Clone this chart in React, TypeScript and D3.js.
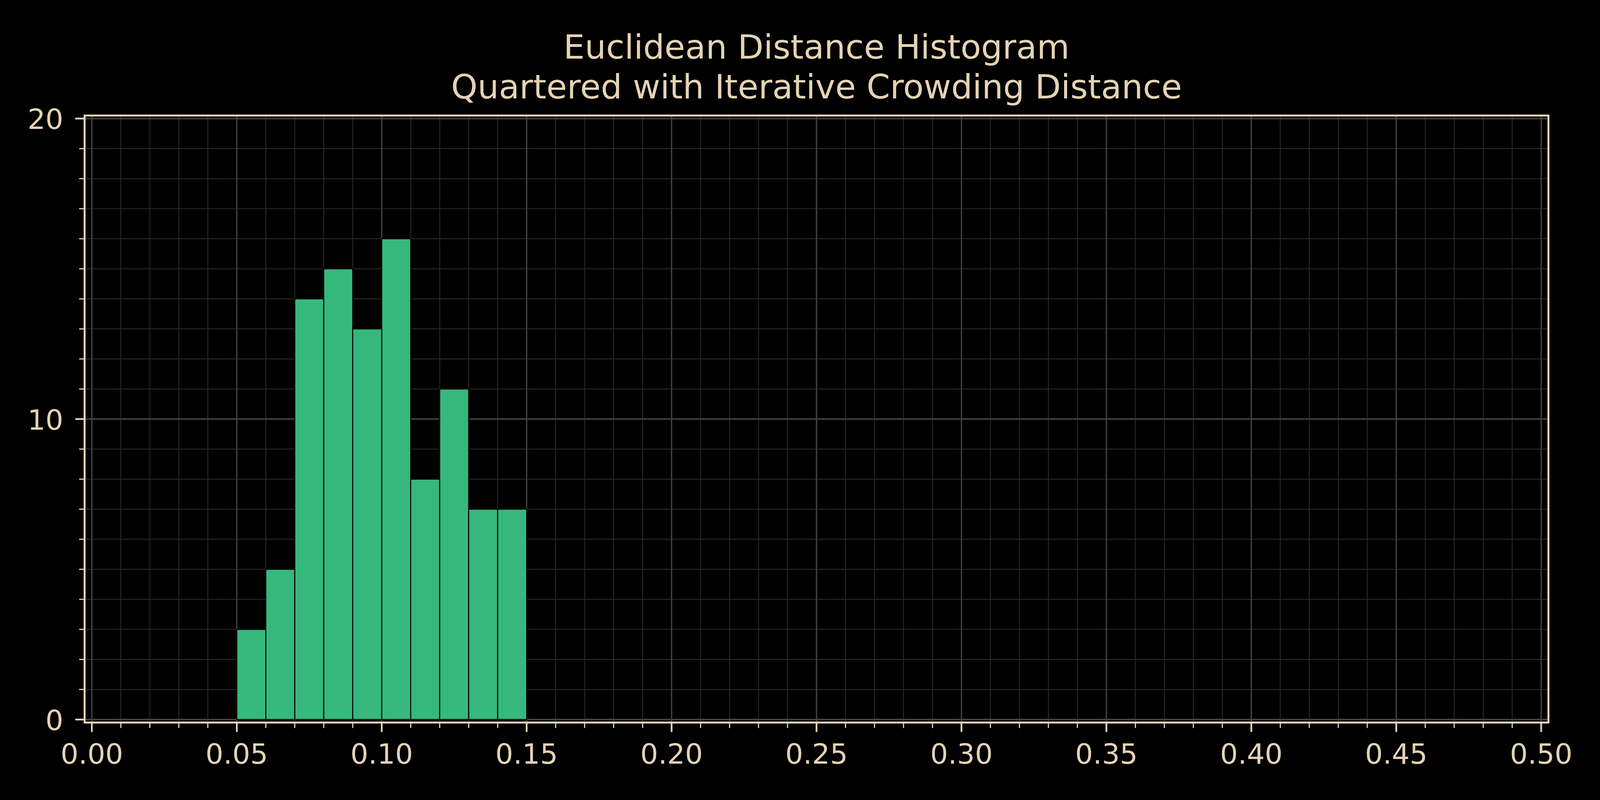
import React, { useEffect, useState } from "react";
import * as d3 from "d3";

const TITLE_LINES = ["Euclidean Distance Histogram", "Quartered with Iterative Crowding Distance"];

const BIN_WIDTH = 0.01;
const BIN_STARTS = [
  0.0, 0.01, 0.02, 0.03, 0.04, 0.05, 0.06, 0.07, 0.08, 0.09,
  0.1, 0.11, 0.12, 0.13, 0.14, 0.15, 0.16, 0.17, 0.18, 0.19,
  0.2, 0.21, 0.22, 0.23, 0.24, 0.25, 0.26, 0.27, 0.28, 0.29,
  0.3, 0.31, 0.32, 0.33, 0.34, 0.35, 0.36, 0.37, 0.38, 0.39,
  0.4, 0.41, 0.42, 0.43, 0.44, 0.45, 0.46, 0.47, 0.48, 0.49,
];
const BIN_COUNTS = [
  0, 0, 0, 0, 0, 3, 5, 14, 15, 13,
  16, 8, 11, 7, 7, 0, 0, 0, 0, 0,
  0, 0, 0, 0, 0, 0, 0, 0, 0, 0,
  0, 0, 0, 0, 0, 0, 0, 0, 0, 0,
  0, 0, 0, 0, 0, 0, 0, 0, 0, 0,
];

const X_MAJOR_TICKS = [0, 0.05, 0.1, 0.15, 0.2, 0.25, 0.3, 0.35, 0.4, 0.45, 0.5];
const X_TICK_LABELS = ["0.00", "0.05", "0.10", "0.15", "0.20", "0.25", "0.30", "0.35", "0.40", "0.45", "0.50"];
const Y_MAJOR_TICKS = [0, 10, 20];
const Y_TICK_LABELS = ["0", "10", "20"];
const X_MINOR_STEP = 0.01;
const Y_MINOR_STEP = 1;

const X_DOMAIN = [-0.0025, 0.5025];
const Y_DOMAIN = [-0.1, 20.1];

// reference frame 6144 x 2048; margins in reference pixels
const REF_W = 6144;
const REF_H = 2048;
const MARGIN = { left: 216.6, right: 132, top: 295.8, bottom: 2048 - 1849.7 };

const TEXT = "#e4d3b5";
const BAR = "#36b87c";
const GRID_MAJOR = "#45413a";
const GRID_MINOR = "#2d2a25";
const FONT = "DejaVu Sans, sans-serif";

function getSize() {
  if (typeof window === "undefined") return { w: REF_W, h: REF_H };
  return { w: window.innerWidth || REF_W, h: window.innerHeight || REF_H };
}

export default function App() {
  const [size, setSize] = useState(getSize());
  useEffect(() => {
    document.body.style.margin = "0";
    document.body.style.background = "#000";
    document.body.style.overflow = "hidden";
    const on = () => setSize(getSize());
    window.addEventListener("resize", on);
    return () => window.removeEventListener("resize", on);
  }, []);

  const W = size.w;
  const H = size.h;
  const s = H / REF_H; // point scale (font sizes, line widths, tick lengths, margins)

  const AX = {
    left: MARGIN.left * s,
    right: W - MARGIN.right * s,
    top: MARGIN.top * s,
    bottom: H - MARGIN.bottom * s,
  };

  const x = d3.scaleLinear().domain(X_DOMAIN).range([AX.left, AX.right]);
  const y = d3.scaleLinear().domain(Y_DOMAIN).range([AX.bottom, AX.top]);

  const isMajorX = (v: number) => X_MAJOR_TICKS.some((m) => Math.abs(m - v) < 1e-9);
  const isMajorY = (v: number) => Y_MAJOR_TICKS.some((m) => Math.abs(m - v) < 1e-9);
  const xMinor = d3.range(0, 0.5 + 1e-9, X_MINOR_STEP).map((v) => +v.toFixed(4)).filter((v) => !isMajorX(v));
  const yMinor = d3.range(0, 20 + 1e-9, Y_MINOR_STEP).filter((v) => !isMajorY(v));

  const cx = (AX.left + AX.right) / 2;
  const majorLen = 24 * s;
  const minorLen = 14 * s;

  return (
    <svg width={W} height={H} viewBox={`0 0 ${W} ${H}`} style={{ display: "block", background: "#000" }}>
      <rect x={0} y={0} width={W} height={H} fill="#000" />
      {/* title */}
      {TITLE_LINES.map((t, i) => (
        <text
          key={t}
          x={cx}
          y={(150 + i * 102) * s}
          fill={TEXT}
          fontFamily={FONT}
          fontSize={86 * s}
          textAnchor="middle"
        >
          {t}
        </text>
      ))}
      {/* grid */}
      <g>
        {xMinor.map((v) => (
          <line key={"gx" + v} x1={x(v)} x2={x(v)} y1={AX.top} y2={AX.bottom} stroke={GRID_MINOR} strokeWidth={2.2 * s} />
        ))}
        {yMinor.map((v) => (
          <line key={"gy" + v} x1={AX.left} x2={AX.right} y1={y(v)} y2={y(v)} stroke={GRID_MINOR} strokeWidth={2.2 * s} />
        ))}
        {X_MAJOR_TICKS.map((v) => (
          <line key={"GX" + v} x1={x(v)} x2={x(v)} y1={AX.top} y2={AX.bottom} stroke={GRID_MAJOR} strokeWidth={3.4 * s} />
        ))}
        {Y_MAJOR_TICKS.map((v) => (
          <line key={"GY" + v} x1={AX.left} x2={AX.right} y1={y(v)} y2={y(v)} stroke={GRID_MAJOR} strokeWidth={4 * s} />
        ))}
      </g>
      {/* histogram bars */}
      <g>
        {BIN_STARTS.map((b, i) => {
          const x0 = x(b);
          const x1 = x(b + BIN_WIDTH);
          const y0 = y(0);
          const y1 = y(BIN_COUNTS[i]);
          return (
            <rect
              key={"b" + i}
              x={x0}
              y={y1}
              width={x1 - x0}
              height={y0 - y1}
              fill={BAR}
              stroke="#000"
              strokeWidth={2.6 * s}
            />
          );
        })}
      </g>
      {/* spines */}
      <rect
        x={AX.left}
        y={AX.top}
        width={AX.right - AX.left}
        height={AX.bottom - AX.top}
        fill="none"
        stroke={TEXT}
        strokeWidth={5 * s}
      />
      {/* x ticks */}
      <g>
        {xMinor.map((v) => (
          <line key={"tx" + v} x1={x(v)} x2={x(v)} y1={AX.bottom} y2={AX.bottom + minorLen} stroke={TEXT} strokeWidth={3 * s} />
        ))}
        {X_MAJOR_TICKS.map((v, i) => (
          <g key={"TX" + v}>
            <line x1={x(v)} x2={x(v)} y1={AX.bottom} y2={AX.bottom + majorLen} stroke={TEXT} strokeWidth={4.5 * s} />
            <text
              x={x(v)}
              y={AX.bottom + 105.3 * s}
              fill={TEXT}
              fontFamily={FONT}
              fontSize={72 * s}
              textAnchor="middle"
            >
              {X_TICK_LABELS[i]}
            </text>
          </g>
        ))}
      </g>
      {/* y ticks */}
      <g>
        {yMinor.map((v) => (
          <line key={"ty" + v} x1={AX.left - minorLen} x2={AX.left} y1={y(v)} y2={y(v)} stroke={TEXT} strokeWidth={3 * s} />
        ))}
        {Y_MAJOR_TICKS.map((v, i) => (
          <g key={"TY" + v}>
            <line x1={AX.left - majorLen} x2={AX.left} y1={y(v)} y2={y(v)} stroke={TEXT} strokeWidth={4.5 * s} />
            <text
              x={AX.left - 54.6 * s}
              y={y(v) + 27 * s}
              fill={TEXT}
              fontFamily={FONT}
              fontSize={72 * s}
              textAnchor="end"
            >
              {Y_TICK_LABELS[i]}
            </text>
          </g>
        ))}
      </g>
    </svg>
  );
}
